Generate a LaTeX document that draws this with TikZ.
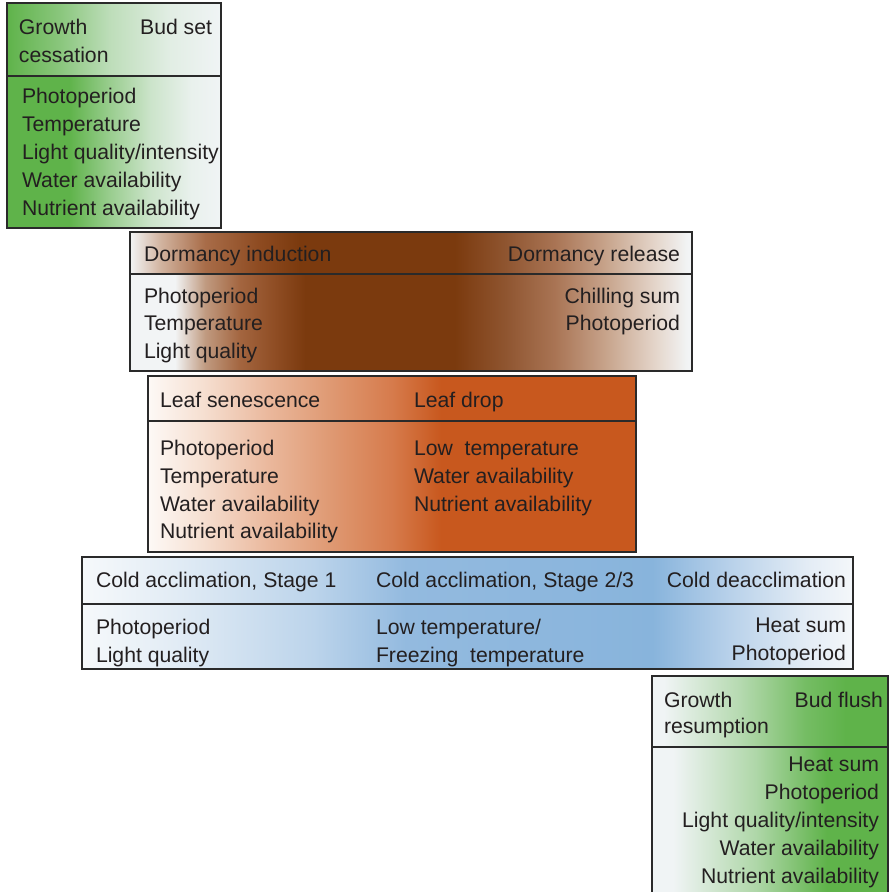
\documentclass[tikz,border=0pt]{standalone}
\usepackage{fontspec}
\setmainfont{Liberation Sans}
\definecolor{txt}{HTML}{231F20}
\definecolor{bord}{HTML}{2A2A2A}
% green
\definecolor{G}{HTML}{5FB34A}
\definecolor{Wg}{HTML}{F0F4F5}
\colorlet{G85}{G!85!Wg}
\colorlet{G70}{G!70!Wg}
\colorlet{G60}{G!60!Wg}
\colorlet{G45}{G!45!Wg}
\colorlet{G40}{G!40!Wg}
\colorlet{G35}{G!35!Wg}
\colorlet{G25}{G!25!Wg}
\colorlet{G10}{G!10!Wg}
\colorlet{G05}{G!5!Wg}
% brown
\definecolor{Ba}{HTML}{F2F4F5}
\definecolor{Bb}{HTML}{D2B4A0}
\definecolor{Bc}{HTML}{A86C48}
\definecolor{Bx}{HTML}{8D4A20}
\definecolor{Bd}{HTML}{7B3A0E}
\definecolor{By}{HTML}{C09A80}
\definecolor{Bz}{HTML}{A3653F}
\definecolor{Bw}{HTML}{8F4D24}
\definecolor{Be}{HTML}{8F5530}
\definecolor{Bf}{HTML}{A97454}
\definecolor{Bg}{HTML}{C7A38B}
\definecolor{Bh}{HTML}{E4D5CA}
% orange
\definecolor{Oa}{HTML}{FDF9F6}
\definecolor{Ob}{HTML}{F6E0D2}
\definecolor{Oc}{HTML}{EAB79B}
\definecolor{Od}{HTML}{DF9A74}
\definecolor{Oe}{HTML}{D67B4C}
\definecolor{Of}{HTML}{C8581E}
% blue
\definecolor{Ua}{HTML}{F6F9FB}
\definecolor{Ub}{HTML}{E2ECF5}
\definecolor{Uc}{HTML}{BCD4EB}
\definecolor{Ud}{HTML}{93BADF}
\definecolor{Ue}{HTML}{88B4DC}
\definecolor{Uf}{HTML}{B8D1EA}
\definecolor{Ug}{HTML}{E3ECF5}
\definecolor{Uh}{HTML}{F4F7FA}

\pgfdeclarehorizontalshading{gHeadA}{100bp}{color(0bp)=(G); color(25bp)=(G); color(37.5bp)=(G70); color(49bp)=(G35); color(63bp)=(G10); color(75bp)=(Wg); color(100bp)=(Wg)}
\pgfdeclarehorizontalshading{gBodyA}{100bp}{color(0bp)=(G); color(25bp)=(G); color(39.5bp)=(G); color(49bp)=(G60); color(58.5bp)=(G25); color(68bp)=(G05); color(75bp)=(Wg); color(100bp)=(Wg)}
\pgfdeclarehorizontalshading{gHeadB}{100bp}{color(0bp)=(Wg); color(27.5bp)=(Wg); color(43.5bp)=(G40); color(57.5bp)=(G85); color(66bp)=(G); color(100bp)=(G)}
\pgfdeclarehorizontalshading{gBodyB}{100bp}{color(0bp)=(Wg); color(29.5bp)=(Wg); color(47bp)=(G45); color(62bp)=(G); color(100bp)=(G)}
\pgfdeclarehorizontalshading{brownH}{100bp}{color(0bp)=(Ba); color(25bp)=(Ba); color(27.7bp)=(Bb); color(31.7bp)=(Bc); color(36.6bp)=(Bx); color(40.1bp)=(Bd); color(53.9bp)=(Bd); color(58.4bp)=(Be); color(62.8bp)=(Bf); color(67.3bp)=(Bg); color(71.7bp)=(Bh); color(74.6bp)=(Ba); color(100bp)=(Ba)}
\pgfdeclarehorizontalshading{brownB}{100bp}{color(0bp)=(Ba); color(25bp)=(Ba); color(29bp)=(Ba); color(31.7bp)=(By); color(34.8bp)=(Bz); color(37.9bp)=(Bw); color(40.6bp)=(Bd); color(53.9bp)=(Bd); color(58.4bp)=(Be); color(62.8bp)=(Bf); color(67.3bp)=(Bg); color(71.7bp)=(Bh); color(74.6bp)=(Ba); color(100bp)=(Ba)}
\pgfdeclarehorizontalshading{orangeS}{100bp}{color(0bp)=(Oa); color(25bp)=(Oa); color(30.5bp)=(Ob); color(37.5bp)=(Oc); color(43.5bp)=(Od); color(50bp)=(Oe); color(55bp)=(Of); color(100bp)=(Of)}
\pgfdeclarehorizontalshading{blueS}{100bp}{color(0bp)=(Ua); color(25bp)=(Ua); color(31bp)=(Ub); color(40bp)=(Uc); color(46bp)=(Ud); color(62bp)=(Ue); color(67bp)=(Uf); color(72bp)=(Ug); color(75bp)=(Uh); color(100bp)=(Uh)}

\begin{document}
\begin{tikzpicture}[x=1pt,y=1pt,
  lbl/.style={inner sep=0pt, outer sep=0pt, font=\fontsize{21.2}{28}\selectfont, text=txt},
  L/.style={lbl, anchor=base west},
  R/.style={lbl, anchor=base east},
  frame/.style={draw=bord, line width=1.2pt}]
\useasboundingbox (0,0) rectangle (891,-892);

% ---- Box 1: growth cessation
\shade[shading=gHeadA] (7,-3) rectangle (221,-76);
\shade[shading=gBodyA] (7,-76) rectangle (221,-228);
\draw[frame] (7,-3) rectangle (221,-228);
\draw[frame] (7,-76) -- (221,-76);
\node[L] (gc1) at (19,-34) {Growth};
\node[L] (gc2) at (19,-62) {cessation};
\node[R] (bset) at (212,-34) {Bud set};
\node[L] (a1) at (22,-103) {Photoperiod};
\node[L] (a2) at (22,-131) {Temperature};
\node[L] (a3) at (22,-159) {Light quality/intensity};
\node[L] (a4) at (22,-187) {Water availability};
\node[L] (a5) at (22,-215) {Nutrient availability};

% ---- Box 2: dormancy
\shade[shading=brownH] (130,-232) rectangle (692,-274);
\shade[shading=brownB] (130,-274) rectangle (692,-371);
\draw[frame] (130,-232) rectangle (692,-371);
\draw[frame] (130,-274) -- (692,-274);
\node[L] (di) at (144,-261) {Dormancy induction};
\node[R] (dr) at (680,-261) {Dormancy release};
\node[L] (b1) at (144,-303) {Photoperiod};
\node[L] (b2) at (144,-330) {Temperature};
\node[L] (b3) at (144,-358) {Light quality};
\node[R] (b4) at (680,-303) {Chilling sum};
\node[R] (b5) at (680,-330) {Photoperiod};

% ---- Box 3: leaf
\shade[shading=orangeS] (148,-376) rectangle (636,-552);
\draw[frame] (148,-376) rectangle (636,-552);
\draw[frame] (148,-421) -- (636,-421);
\node[L] (ls) at (160,-407) {Leaf senescence};
\node[L] (ld) at (414,-407) {Leaf drop};
\node[L] (c1) at (160,-455) {Photoperiod};
\node[L] (c2) at (160,-483) {Temperature};
\node[L] (c3) at (160,-511) {Water availability};
\node[L] (c4) at (160,-538) {Nutrient availability};
\node[L] (c5) at (414,-455) {Low\ \ temperature};
\node[L] (c6) at (414,-483) {Water availability};
\node[L] (c7) at (414,-511) {Nutrient availability};

% ---- Box 4: cold
\shade[shading=blueS] (82,-557) rectangle (853,-669);
\draw[frame] (82,-557) rectangle (853,-669);
\draw[frame] (82,-604) -- (853,-604);
\node[L] (ca1) at (96,-587) {Cold acclimation, Stage 1};
\node[L] (ca2) at (376,-587) {Cold acclimation, Stage 2/3};
\node[R] (cd) at (846,-587) {Cold deacclimation};
\node[L] (d1) at (96,-634) {Photoperiod};
\node[L] (d2) at (96,-662) {Light quality};
\node[L] (d3) at (376,-634) {Low temperature/};
\node[L] (d4) at (376,-662) {Freezing\ \ temperature};
\node[R] (d5) at (846,-632) {Heat sum};
\node[R] (d6) at (846,-660) {Photoperiod};

% ---- Box 5: growth resumption
\shade[shading=gHeadB] (652,-676) rectangle (888,-747);
\shade[shading=gBodyB] (652,-747) rectangle (888,-892);
\draw[frame] (652,-892) -- (652,-676) -- (888,-676) -- (888,-892);
\draw[frame] (652,-747) -- (888,-747);
\node[L] (gr1) at (664,-707) {Growth};
\node[L] (gr2) at (664,-733) {resumption};
\node[R] (bf) at (883,-707) {Bud flush};
\node[R] (e1) at (879,-771) {Heat sum};
\node[R] (e2) at (879,-799) {Photoperiod};
\node[R] (e3) at (879,-827) {Light quality/intensity};
\node[R] (e4) at (879,-855) {Water availability};
\node[R] (e5) at (879,-883) {Nutrient availability};
\end{tikzpicture}
\end{document}
